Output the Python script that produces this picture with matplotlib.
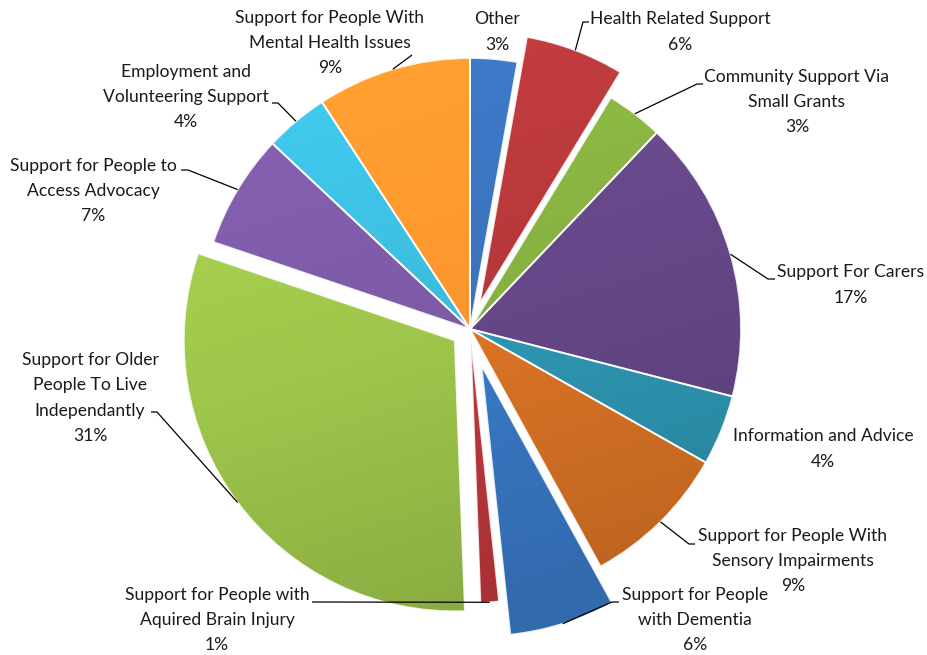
'''Exploded pie chart of funding split by support category'''

import numpy as np
import matplotlib
matplotlib.use("Agg")
import matplotlib.pyplot as plt
import matplotlib.colors as mcolors

# canvas in pixels, the axes maps 1 data unit to 1 pixel
W, H = 928, 655

categories = [
    "Other",
    "Health Related Support",
    "Community Support Via\nSmall Grants",
    "Support For Carers",
    "Information and Advice",
    "Support for People With\nSensory Impairments",
    "Support for People\nwith Dementia",
    "Support for People with\nAquired Brain Injury",
    "Support for Older\nPeople To Live\nIndependantly",
    "Support for People to\nAccess Advocacy",
    "Employment and\nVolunteering Support",
    "Support for People With\nMental Health Issues",
]
shares = [2.8, 5.9, 3.4, 16.9, 4.2, 8.8, 6.3, 1.1, 30.8, 6.8, 3.8, 9.2]

slice_colors = ['#3A72BC', '#B5383A', '#86B041', '#654788', '#2E97B3', '#DB7426',
                '#3A7AC8', '#C0383B', '#9EC64B', '#7C5AA5', '#3CBBDD', '#F7952E']
explode_px = [0, 27, 0, 0, 0, 0, 38, 3, 19, 0, 0, 0]

PIE_CX, PIE_CY, PIE_R = 470, 329, 271

# label centre, leader elbow and stub end (pixel coords, y down); None = no leader
label_pos = [
    ((497, 32), None, None),
    ((680, 32), (583, 22), (589, 22)),
    ((797, 102), (697, 84), (703, 84)),
    ((851, 285), (768, 279), (775, 279)),
    ((823, 449), None, None),
    ((793, 561), (689, 544), (695, 544)),
    ((695, 620), (612, 602), (619, 602)),
    ((217, 620), (314, 602), (312, 602)),
    ((90, 398), (157, 412), (151, 412)),
    ((93, 191), (188, 170), (181, 170)),
    ((186, 97), (278, 103), (272, 103)),
    ((330, 43), (412, 55), (412, 55)),
]


def px(x, y):
    return x, H - y


plt.rcParams['font.family'] = ['Lato', 'DejaVu Sans']

fig = plt.figure(figsize=(W / 100, H / 100), dpi=100)
ax = fig.add_axes([0, 0, 1, 1])

wedges, _ = ax.pie(shares, colors=slice_colors, startangle=90, counterclock=False,
                   explode=explode_px, radius=PIE_R, center=px(PIE_CX, PIE_CY),
                   wedgeprops=dict(linewidth=0))

# soft diagonal shading like the office chart style
gx, gy = np.meshgrid(np.linspace(0, W, 232), np.linspace(H, 0, 164))
s = (0.3 * (gx - PIE_CX) + 0.95 * ((H - gy) - PIE_CY)) / PIE_R
s = np.clip(s, -1, 1)[..., None]
for w, c in zip(wedges, slice_colors):
    rgb = np.array(mcolors.to_rgb(c))[None, None, :]
    light = np.clip(rgb * (1 + np.clip(-s, 0, 1) * 0.08), 0, 1)
    dark = rgb * (1 - np.clip(s, 0, 1) * 0.13)
    img = np.where(s < 0, light, dark)
    im = ax.imshow(img, extent=(0, W, 0, H), origin='upper', interpolation='bilinear',
                   zorder=2, aspect='auto')
    im.set_clip_path(w)
    w.set_facecolor('none')
    w.set_edgecolor((1, 1, 1, 0.85))
    w.set_linewidth(1.3)
    w.set_zorder(3)

ax.set_xlim(0, W)
ax.set_ylim(0, H)
ax.set_aspect('equal')
ax.axis('off')

for w, name, val, (tpos, elbow, stub) in zip(wedges, categories, shares, label_pos):
    ax.text(*px(*tpos), f"{name}\n{val:.0f}%", ha='center', va='center',
            fontsize=12.6, linespacing=1.72, color='#1a1a1a', zorder=5)
    if elbow is None:
        continue
    tm = np.deg2rad((w.theta1 + w.theta2) / 2)
    ax0 = w.center[0] + w.r * np.cos(tm)
    ay0 = w.center[1] + w.r * np.sin(tm)
    ex, ey = px(*elbow)
    sx, sy = px(*stub)
    ax.plot([ax0, ex, sx], [ay0, ey, sy], color='black', lw=0.9, zorder=4,
            solid_capstyle='butt')

fig.savefig("out.png", dpi=100, facecolor='white')
